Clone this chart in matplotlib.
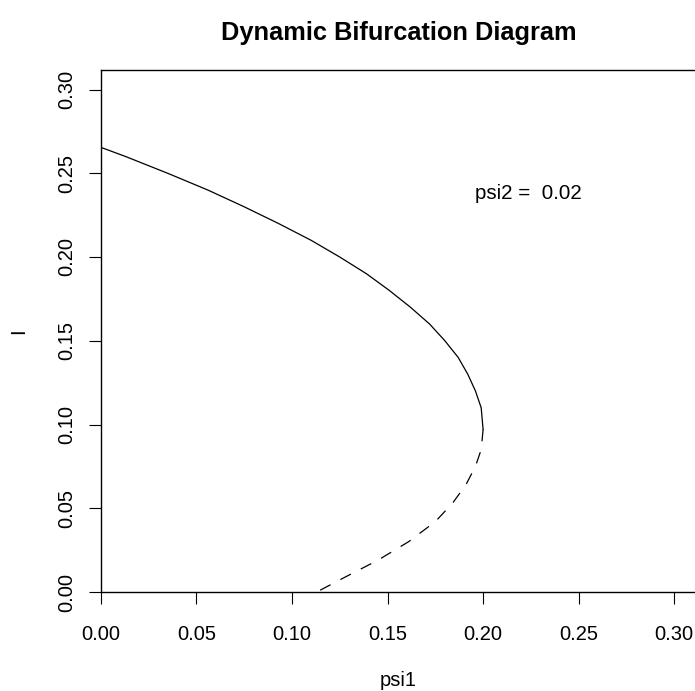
import matplotlib
matplotlib.use("Agg")
import matplotlib.pyplot as plt

plt.rcParams['font.family'] = ['Liberation Sans', 'DejaVu Sans']
plt.rcParams['lines.scale_dashes'] = False

# stable branch (solid)
stable_psi1 = [0.000, 0.013, 0.035, 0.056, 0.075, 0.093, 0.110, 0.125, 0.139,
               0.151, 0.162, 0.172, 0.180, 0.187, 0.192, 0.196, 0.199, 0.200]
stable_I = [0.2655, 0.260, 0.250, 0.240, 0.230, 0.220, 0.210, 0.200, 0.190,
            0.180, 0.170, 0.160, 0.150, 0.140, 0.130, 0.120, 0.110, 0.097]

# unstable branch (dashed)
unstable_psi1 = [0.200, 0.199, 0.196, 0.191, 0.184, 0.175, 0.161, 0.145, 0.128, 0.113]
unstable_I = [0.097, 0.085, 0.075, 0.064, 0.053, 0.042, 0.030, 0.019, 0.009, 0.000]

xticks = [0.00, 0.05, 0.10, 0.15, 0.20, 0.25, 0.30]
yticks = [0.00, 0.05, 0.10, 0.15, 0.20, 0.25, 0.30]

x0, y0 = 100.7, 592.0          # pixel position of the (0, 0) corner
px_x, px_y = 1912.0, 1675.0    # pixels per data unit
xmax = (697 - x0) / px_x
ymax = (y0 - 70) / px_y

fig = plt.figure(figsize=(6.95, 6.91), dpi=100)
ax = fig.add_axes([x0 / 695, (691 - y0) / 691, (697 - x0) / 695, (y0 - 70) / 691])

ax.plot(stable_psi1, stable_I, color='black', lw=0.9)
ax.plot(unstable_psi1, unstable_I, color='black', lw=0.9, dashes=(8.5, 8))

ax.set_xlim(0, xmax)
ax.set_ylim(0, ymax)
ax.set_xticks(xticks)
ax.set_xticklabels([f"{t:.2f}" for t in xticks])
ax.set_yticks(yticks)
ax.set_yticklabels([f"{t:.2f}" for t in yticks], rotation=90, va='center')
ax.tick_params(direction='out', length=8.5, width=0.8, labelsize=14.5)
ax.tick_params(axis='x', pad=15)
ax.tick_params(axis='y', pad=9)
for s in ax.spines.values():
    s.set_linewidth(1.0)

ax.text(0.2237, 0.238, "psi2 =  0.02", ha='center', va='center', fontsize=14.8)

fig.text(399 / 695, 1 - 33 / 691, "Dynamic Bifurcation Diagram", ha='center', va='center',
         fontsize=18.3, fontweight='bold')
fig.text(398 / 695, 1 - 681 / 691, "psi1", ha='center', va='center', fontsize=14.5)
fig.text(19 / 695, 1 - 331 / 691, "I", ha='center', va='center', fontsize=14.5, rotation=90)

fig.savefig("out.png", dpi=100)
